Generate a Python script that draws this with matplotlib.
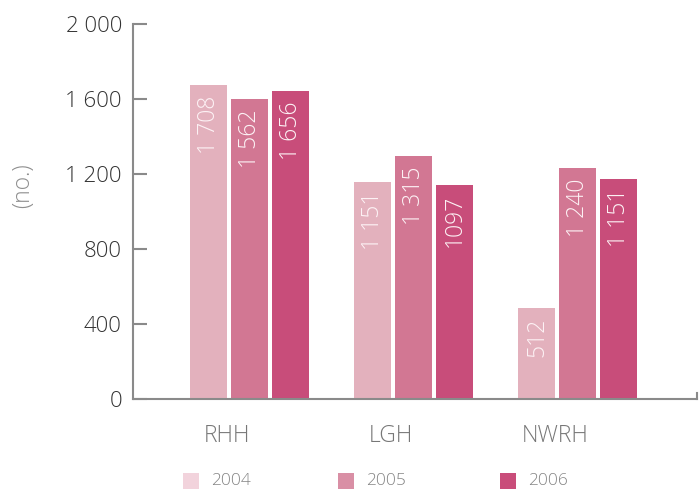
import matplotlib
matplotlib.use('Agg')
import matplotlib.pyplot as plt
from matplotlib.patches import Rectangle
import numpy as np

# data
hospitals = ['RHH', 'LGH', 'NWRH']
years = ['2004', '2005', '2006']
# bar heights as drawn
heights = {
    '2004': [1674, 1160, 487],
    '2005': [1599, 1294, 1230],
    '2006': [1642, 1144, 1176],
}
# numbers printed on the bars
printed = {
    '2004': ['1 708', '1 151', '512'],
    '2005': ['1 562', '1 315', '1 240'],
    '2006': ['1 656', '1097', '1 151'],
}
yticks = [0, 400, 800, 1200, 1600, 2000]
ytick_labels = ['0', '400', '800', '1 200', '1 600', '2 000']

bar_colors = ['#e3b1bd', '#d27793', '#c84d7a']
legend_colors = ['#f2d3dc', '#d98fa5', '#c94d7a']

plt.rcParams['font.family'] = ['Open Sans', 'DejaVu Sans']

W, H = 699, 491
fig = plt.figure(figsize=(W / 100, H / 100), dpi=100)
ax = fig.add_axes([133 / W, 1 - 399 / H, (697 - 133) / W, (399 - 24) / H])

x = np.arange(len(hospitals))
width = 0.2256
step = 0.25
for i, yr in enumerate(years):
    pos = x + (i - 1) * step
    bars = ax.bar(pos, heights[yr], width=width, color=bar_colors[i],
                  linewidth=0)
    for b, lab in zip(bars, printed[yr]):
        ax.text(b.get_x() + b.get_width() / 2, b.get_height() - 55, lab,
                rotation=90, ha='center', va='top', color='#fdf2f5',
                fontsize=16.5, fontweight='light')

ax.set_xlim(-0.713, 2.726)
ax.set_ylim(0, 2000)
ax.set_yticks(yticks)
ax.set_yticklabels(ytick_labels, fontsize=16, color='#333333',
                   fontweight='light')
ax.tick_params(axis='y', direction='in', length=10, width=1.5,
               color='#8a8a8a', pad=8)
# category labels sit a little left of the group centres
ax.set_xticks(x - 0.14)
ax.set_xticklabels(hospitals, fontsize=16.5, color='#777777',
                   fontweight='light')
ax.tick_params(axis='x', length=0, pad=18)

for s in ['top', 'right']:
    ax.spines[s].set_visible(False)
for s in ['left', 'bottom']:
    ax.spines[s].set_color('#8a8a8a')
    ax.spines[s].set_linewidth(1.5)

# small closing tick at the right end of the baseline
ax.plot([1, 1], [0, 0.015], transform=ax.transAxes, color='#8a8a8a',
        lw=1.5, clip_on=False)

fig.text(23 / W, 1 - 186 / H, '(no.)', rotation=90, ha='center',
         va='center', fontsize=16.5, color='#8f8f8f', fontweight='light')

# legend row
leg_x = [183, 338, 500]
for i, yr in enumerate(years):
    fig.add_artist(Rectangle((leg_x[i] / W, 1 - 489 / H), 16 / W, 16 / H,
                             transform=fig.transFigure,
                             color=legend_colors[i], lw=0))
    fig.text((leg_x[i] + 28) / W, 1 - 481 / H, yr, ha='left',
             va='center', fontsize=12.5, color='#858585',
             fontweight='light')

fig.savefig('out.png', dpi=100)
